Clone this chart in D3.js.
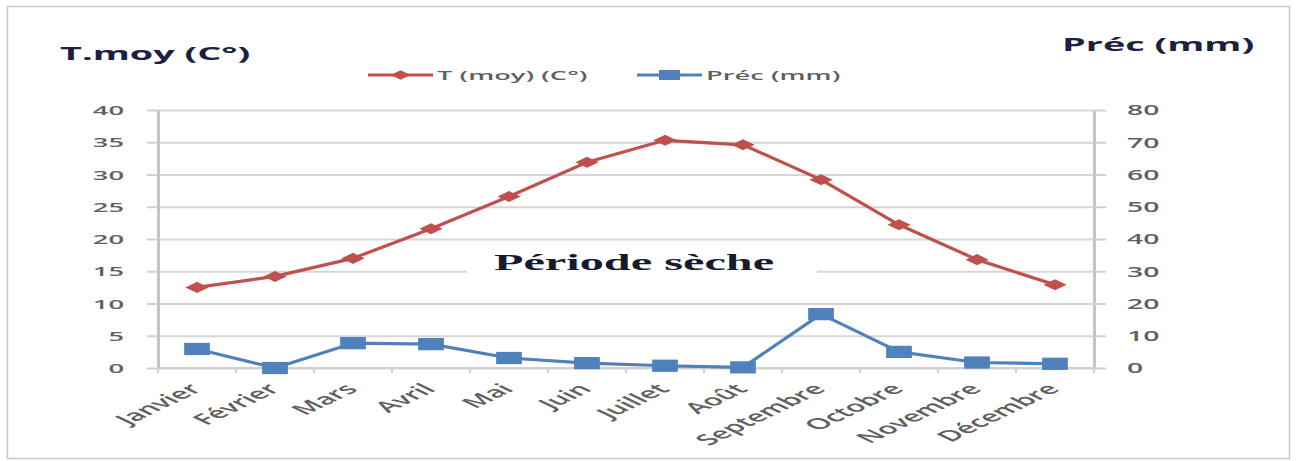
<!DOCTYPE html>
<html>
<head>
<meta charset="utf-8">
<script src="https://cdn.jsdelivr.net/npm/d3@7"></script>
<style>
  html, body { margin: 0; padding: 0; background: #ffffff; }
  svg { display: block; }
</style>
</head>
<body>
<svg id="chart" width="1296" height="461"></svg>
<script>
// Climate data: monthly mean temperature and precipitation
const months = ["Janvier", "Février", "Mars", "Avril", "Mai", "Juin",
                "Juillet", "Août", "Septembre", "Octobre", "Novembre", "Décembre"];
const temperature = [12.5, 14.2, 17.0, 21.6, 26.6, 31.9, 35.3, 34.6, 29.2, 22.2, 16.8, 12.9];
const precipitation = [5.9, 0.0, 7.7, 7.4, 3.1, 1.5, 0.7, 0.2, 16.7, 5.0, 1.7, 1.3];
const tempTicks = [0, 5, 10, 15, 20, 25, 30, 35, 40];
const precTicks = [0, 10, 20, 30, 40, 50, 60, 70, 80];
const seriesNames = ["T (moy) (C°)", "Préc (mm)"];
const axisTitles = ["T.moy (C°)", "Préc (mm)"];
const annotation = "Période sèche";

// Horizontal stretch applied to text and markers
const SX = 2.1;
const RED = "#c0504d", BLUE = "#4f81bd";
const TITLE_COL = "#1b2140", LABEL_COL = "#5f5f5f";
const FONT = "'Open Sans', 'DejaVu Sans', sans-serif";

const svg = d3.select("#chart");

// Outer frame
svg.append("rect")
  .attr("x", 7.5).attr("y", 6.5).attr("width", 1282).attr("height", 452)
  .attr("fill", "#fff").attr("stroke", "#c8c8c8").attr("stroke-width", 1.5);

const plotL = 158, plotR = 1094, plotT = 110, plotB = 368;

const x = d3.scalePoint().domain(months).range([plotL, plotR]).padding(0.5);
const xb = d3.scaleBand().domain(months).range([plotL, plotR]);
const yL = d3.scaleLinear().domain([0, 40]).range([plotB, plotT]);
const yR = d3.scaleLinear().domain([0, 80]).range([plotB, plotT]);

function stretch(sel, dx, dy, rot) {
  sel.attr("x", 0).attr("y", 0)
     .attr("transform", `translate(${dx},${dy}) scale(${SX},1)` + (rot ? ` rotate(${rot})` : ""));
}

// Horizontal gridlines
svg.append("g")
  .attr("transform", `translate(${plotL},0)`)
  .call(d3.axisLeft(yL).tickValues(tempTicks).tickSize(-(plotR - plotL)).tickFormat(""))
  .call(g => g.select(".domain").remove())
  .call(g => g.selectAll(".tick line").attr("stroke", "#d6d6d6").attr("stroke-width", 2));

// Left axis
const gL = svg.append("g")
  .attr("transform", `translate(${plotL},0)`)
  .call(d3.axisLeft(yL).tickValues(tempTicks).tickSize(11).tickSizeOuter(0));
gL.select(".domain").attr("stroke", "#c4c4c4").attr("stroke-width", 3);
gL.selectAll(".tick line").attr("stroke", "#d0d0d0").attr("stroke-width", 2);
gL.selectAll(".tick text")
  .attr("fill", LABEL_COL).attr("font-family", FONT).attr("font-size", 13).attr("font-weight", 600)
  .attr("text-anchor", "end").attr("dy", "0.36em")
  .each(function () { stretch(d3.select(this), -34, 0); });

// Right axis
const gR = svg.append("g")
  .attr("transform", `translate(${plotR},0)`)
  .call(d3.axisRight(yR).tickValues(precTicks).tickSize(12).tickSizeOuter(0));
gR.select(".domain").attr("stroke", "#c4c4c4").attr("stroke-width", 3);
gR.selectAll(".tick line").attr("stroke", "#d0d0d0").attr("stroke-width", 2);
gR.selectAll(".tick text")
  .attr("fill", LABEL_COL).attr("font-family", FONT).attr("font-size", 13.5).attr("font-weight", 600)
  .attr("text-anchor", "start").attr("dy", "0.36em")
  .each(function () { stretch(d3.select(this), 33, 0); });

// Category axis: baseline, boundary ticks, rotated labels
const gX = svg.append("g");
gX.append("line")
  .attr("x1", plotL).attr("x2", plotR).attr("y1", plotB).attr("y2", plotB)
  .attr("stroke", "#d0d0d0").attr("stroke-width", 2);
const bounds = months.map(m => xb(m)).concat([xb.range()[1]]);
gX.selectAll("line.bt").data(bounds).join("line")
  .attr("class", "bt")
  .attr("x1", d => d).attr("x2", d => d).attr("y1", plotB).attr("y2", plotB + 5)
  .attr("stroke", "#cfcfcf").attr("stroke-width", 2);
gX.selectAll("text").data(months).join("text")
  .text(d => d)
  .attr("fill", LABEL_COL).attr("font-family", FONT).attr("font-size", 15).attr("font-weight", 600)
  .attr("text-anchor", "end")
  .each(function (d) { stretch(d3.select(this), x(d) + 6, 390, -45); });

// "Période sèche" label on a white box
const boxG = svg.append("g");
boxG.append("rect")
  .attr("x", 467).attr("y", 248).attr("width", 350).attr("height", 46).attr("fill", "#fff");
boxG.append("text")
  .text(annotation)
  .attr("fill", "#141a30").attr("font-family", "'Liberation Serif', 'Times New Roman', serif")
  .attr("font-size", 23).attr("font-weight", "bold").attr("text-anchor", "middle")
  .call(s => stretch(s, 634, 270));

// Marker shapes (drawn unstretched, then scaled by SX)
const diamond = d3.symbol().type(d3.symbolDiamond2).size(78);
const square = d3.symbol().type(d3.symbolSquare).size(150);

// Temperature line
const lineT = d3.line().x((d, i) => x(months[i])).y(d => yL(d));
svg.append("path").datum(temperature)
  .attr("d", lineT).attr("fill", "none").attr("stroke", RED).attr("stroke-width", 3.2)
  .attr("stroke-linejoin", "round");
svg.selectAll("path.tmark").data(temperature).join("path")
  .attr("class", "tmark").attr("d", diamond).attr("fill", RED)
  .attr("transform", (d, i) => `translate(${x(months[i])},${yL(d)}) scale(${SX},1)`);

// Precipitation line
const lineP = d3.line().x((d, i) => x(months[i])).y(d => yR(d));
svg.append("path").datum(precipitation)
  .attr("d", lineP).attr("fill", "none").attr("stroke", BLUE).attr("stroke-width", 3.2)
  .attr("stroke-linejoin", "round");
svg.selectAll("path.pmark").data(precipitation).join("path")
  .attr("class", "pmark").attr("d", square).attr("fill", BLUE)
  .attr("transform", (d, i) => `translate(${x(months[i])},${yR(d)}) scale(${SX},1)`);

// Axis titles
svg.append("text").text(axisTitles[0])
  .attr("fill", TITLE_COL).attr("font-family", FONT).attr("font-size", 18).attr("font-weight", "bold")
  .call(s => stretch(s, 60, 60));
svg.append("text").text(axisTitles[1])
  .attr("fill", TITLE_COL).attr("font-family", FONT).attr("font-size", 18).attr("font-weight", "bold")
  .call(s => stretch(s, 1062, 51));

// Legend
const legend = [
  { name: seriesNames[0], color: RED, shape: d3.symbol().type(d3.symbolDiamond2).size(56), x0: 368 },
  { name: seriesNames[1], color: BLUE, shape: d3.symbol().type(d3.symbolSquare).size(100), x0: 637 }
];
const lg = svg.selectAll("g.leg").data(legend).join("g").attr("class", "leg")
  .attr("transform", d => `translate(${d.x0},75)`);
lg.append("line").attr("x1", 0).attr("x2", 65).attr("y1", 0).attr("y2", 0)
  .attr("stroke", d => d.color).attr("stroke-width", 3);
lg.append("path").attr("d", d => d.shape()).attr("fill", d => d.color)
  .attr("transform", `translate(32.5,0) scale(${SX},1)`);
lg.append("text").text(d => d.name)
  .attr("fill", LABEL_COL).attr("font-family", FONT).attr("font-size", 13).attr("font-weight", 600)
  .attr("dy", "0.36em")
  .each(function () { stretch(d3.select(this), 69, 0); });
</script>
</body>
</html>
